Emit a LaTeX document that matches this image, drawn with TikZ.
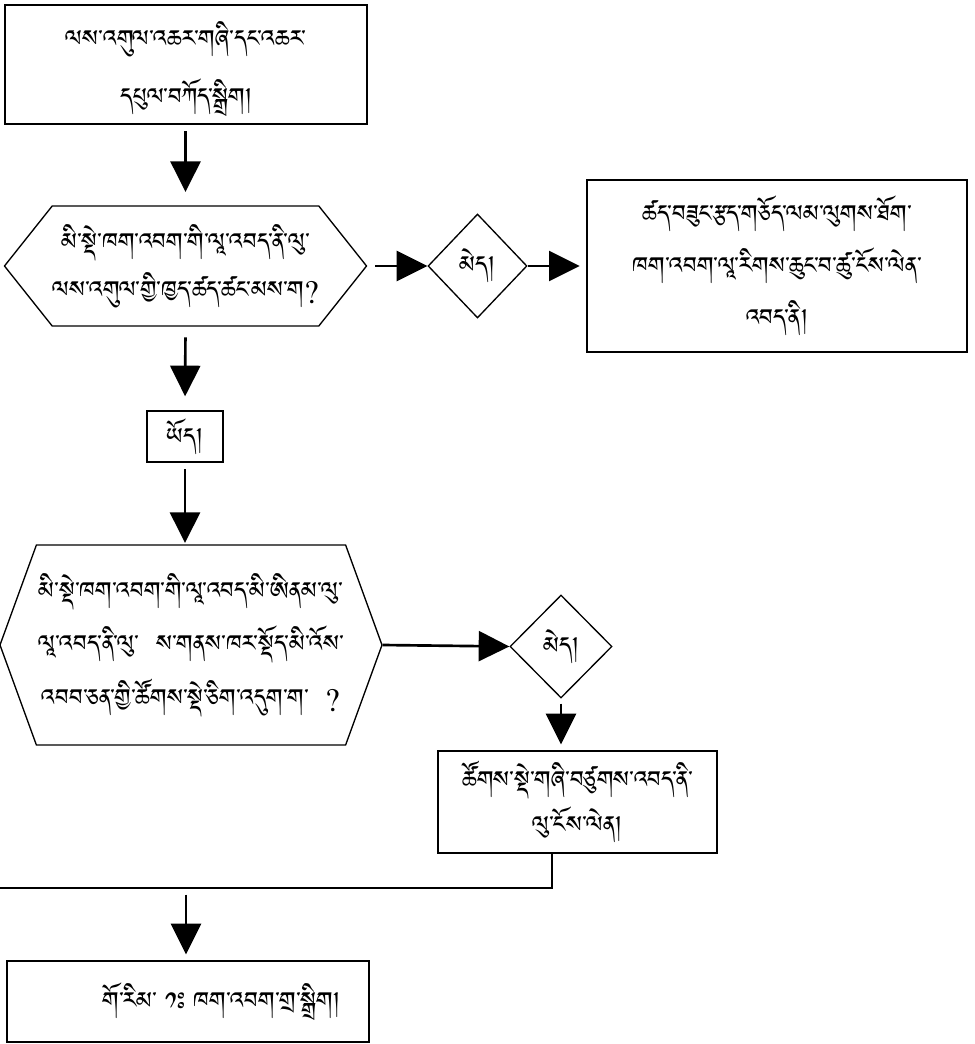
\documentclass[tikz,border=0pt]{standalone}
\usepackage{fontspec}
\usetikzlibrary{shapes.geometric,shapes.symbols,arrows.meta}
\newfontfamily\tib[Script=Tibetan]{Jomolhari}
\newcommand\tsz[1]{\tib\fontsize{22}{#1}\selectfont}
\tikzset{
  base/.style={draw, line width=1pt, align=center, inner sep=0pt, font=\tsz{40}},
  rbox/.style={base, rectangle},
  hexa/.style={base, signal, signal to=east and west},
  dia/.style={base, diamond, aspect=1},
  conn/.style={line width=2pt, -{Triangle[length=23pt,width=22.5pt]}},
  plain/.style={line width=2pt}
}
\begin{document}
\begin{tikzpicture}[x=0.75pt,y=-0.75pt]
\useasboundingbox (0,0) rectangle (974,1044);
\node[rbox, minimum width=271.5pt, minimum height=89.25pt, font=\tsz{44}] (top) at (186,64.5)
  {\rule{0pt}{30pt}ལས་འགུལ་འཆར་གཞི་དང་འཆར་\\དཔུལ་བཀོད་སྒྲིག།};
\node[hexa, minimum width=269.25pt, minimum height=90pt, signal pointer angle=103, font=\tsz{36}] (hexa1) at (185.5,266)
  {མི་སྡེ་ཁག་འབག་གི་ལཱ་འབད་ནི་ལུ་\\ལས་འགུལ་གྱི་ཁྱད་ཚད་ཚང་མས་ག?};
\node[dia, minimum width=74.25pt, minimum height=78pt] (d1) at (477.5,266) {མེད།};
\node[rbox, minimum width=285pt, minimum height=129pt, font=\tsz{39}] (r1) at (777,266)
  {ཚད་བཟུང་རྩད་གཅོད་ལམ་ལུགས་ཐོག་\\ཁག་འབག་ལཱ་རིགས་ཆུང་བ་ཚུ་ངོས་ལེན་\\འབད་ནི།};
\node[rbox, minimum width=57pt, minimum height=38.25pt] (yod) at (185,436.5) {ཡོད།};
\node[hexa, minimum width=286.5pt, minimum height=150pt, signal pointer angle=140, font=\tsz{40}] (hexa2) at (191,645)
  {མི་སྡེ་ཁག་འབག་གི་ལཱ་འབད་མི་ཨིནམ་ལུ་\\ལཱ་འབད་ནི་ལུ་~~ས་གནས་ཁར་སྡོད་མི་འོས་\\འབབ་ཅན་གྱི་ཚོགས་སྡེ་ཅིག་འདུག་ག་~~?};
\node[dia, minimum width=76.5pt, minimum height=77.25pt] (d2) at (561,646.5) {མེད།};
\node[rbox, minimum width=209.25pt, minimum height=76.5pt, font=\tsz{34}] (r2) at (577.5,802)
  {ཚོགས་སྡེ་གཞི་བཙུགས་འབད་ནི་\\ལུ་ངོས་ལེན།};
\node[rbox, minimum width=271.5pt, minimum height=60.75pt] (bot) at (188,1001.5)
  {\hspace*{50pt}གོ་རིམ་ ༡ཿ ཁག་འབག་གྲ་སྒྲིག།};
\coordinate (S) at (552,853);
\coordinate (L) at (0,888);
\coordinate (M) at (186,888);
\draw[conn, shorten <=5pt, shorten >=10pt] (top.south -| hexa1.north) -- (hexa1.north);
\draw[conn, shorten <=6pt] (hexa1.east) -- (d1.west);
\draw[conn, shorten >=5pt] (d1.east) -- (r1.west);
\draw[conn, shorten <=8pt, shorten >=10.5pt] (hexa1.south) -- (yod.north);
\draw[conn, shorten <=5pt, shorten >=1pt] (yod.south) -- (yod.south |- hexa2.north);
\draw[conn] (hexa2.east) -- (d2.west);
\draw[conn, shorten <=3.75pt, shorten >=4.5pt] (d2.south) -- (d2.south |- r2.north);
\draw[plain] (S) |- (L);
\draw[conn, shorten <=5pt, shorten >=4.5pt] (M) -- (M |- bot.north);
\end{tikzpicture}
\end{document}
